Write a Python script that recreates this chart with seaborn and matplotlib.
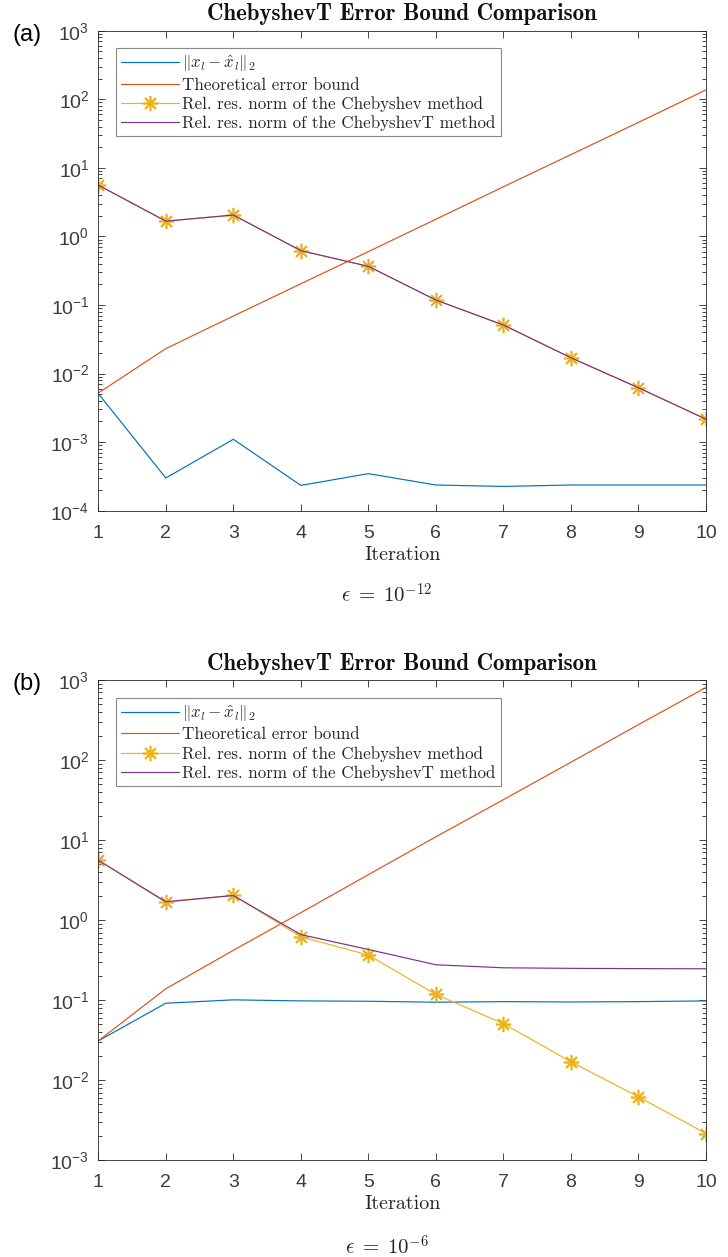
import numpy as np
import pandas as pd
import matplotlib
matplotlib.use("Agg")
import matplotlib.pyplot as plt
import seaborn as sns
from matplotlib.ticker import LogLocator, NullFormatter, LogFormatterSciNotation, FixedLocator
from matplotlib.font_manager import FontProperties

# ---------------- data ----------------
iters = [1, 2, 3, 4, 5, 6, 7, 8, 9, 10]

a_err = [5.1e-3, 3.0e-4, 1.1e-3, 2.34e-4, 3.47e-4, 2.37e-4, 2.26e-4, 2.37e-4, 2.37e-4, 2.37e-4]
a_bound = [5.2e-3, 2.31e-2, 6.9e-2, 0.204, 0.60, 1.78, 5.3, 15.6, 46.0, 137.0]
a_cheb = [5.6, 1.67, 2.05, 0.62, 0.366, 0.118, 0.051, 0.017, 0.0062, 0.00216]
a_chebT = [5.6, 1.67, 2.05, 0.62, 0.366, 0.118, 0.051, 0.017, 0.0062, 0.00216]

b_err = [0.031, 0.0917, 0.101, 0.098, 0.097, 0.0944, 0.096, 0.095, 0.096, 0.098]
b_bound = [0.031, 0.139, 0.42, 1.24, 3.7, 11.0, 32.0, 94.0, 277.0, 807.0]
b_cheb = [5.6, 1.67, 2.05, 0.62, 0.366, 0.118, 0.051, 0.017, 0.0062, 0.00216]
b_chebT = [5.6, 1.70, 2.03, 0.66, 0.43, 0.277, 0.254, 0.250, 0.248, 0.247]

labels = [r"$\|x_l - \hat{x}_l\|_2$",
          "Theoretical error bound",
          "Rel. res. norm of the Chebyshev method",
          "Rel. res. norm of the ChebyshevT method"]
title = "ChebyshevT Error Bound Comparison"
xlabel = "Iteration"
eps_labels = [r"$\epsilon\;=\;10^{-12}$", r"$\epsilon\;=\;10^{-6}$"]
panel_labels = ["(a)", "(b)"]

# ---------------- style ----------------
sns.set_style("ticks")
plt.rcParams["font.family"] = ["Liberation Sans", "DejaVu Sans"]
plt.rcParams["mathtext.fontset"] = "custom"
plt.rcParams["mathtext.rm"] = "Liberation Sans"
plt.rcParams["mathtext.it"] = "Liberation Sans:italic"
plt.rcParams["mathtext.bf"] = "Liberation Sans:bold"

dark = "#262626"
ticklab = "#3c3c3c"
colors = ["#0072BD", "#D95319", "#EDB120", "#7E2F8E"]

W, H = 728, 1257
fig = plt.figure(figsize=(W / 100, H / 100), dpi=100)
left = 98.3 / W
width = (706 - 98.3) / W
ax1 = fig.add_axes([left, 1 - 510.7 / H, width, 480 / H])
ax2 = fig.add_axes([left, 1 - 1160.3 / H, width, 480.3 / H])

panels = [
    (ax1, a_err, a_bound, a_cheb, a_chebT, (1e-4, 1e3)),
    (ax2, b_err, b_bound, b_cheb, b_chebT, (1e-3, 1e3)),
]

star = (8, 2, 0)
leg_prop = FontProperties(family="cmr10", size=12.2, math_fontfamily="cm")

for i, (ax, err, bound, cheb, chebT, ylim) in enumerate(panels):
    df = pd.DataFrame({"Iteration": iters, "err": err, "bound": bound,
                       "cheb": cheb, "chebT": chebT})
    sns.lineplot(data=df, x="Iteration", y="err", ax=ax, color=colors[0], lw=0.85,
                 label=labels[0])
    sns.lineplot(data=df, x="Iteration", y="bound", ax=ax, color=colors[1], lw=0.85,
                 label=labels[1])
    sns.lineplot(data=df, x="Iteration", y="cheb", ax=ax, color=colors[2], lw=0.85,
                 marker=star, markersize=11, markeredgewidth=1.2,
                 markeredgecolor=colors[2], label=labels[2])
    sns.lineplot(data=df, x="Iteration", y="chebT", ax=ax, color=colors[3], lw=0.85,
                 label=labels[3])
    ax.set_yscale("log")
    ax.set_xlim(1, 10)
    ax.set_ylim(*ylim)
    ax.xaxis.set_major_locator(FixedLocator(iters))
    ax.yaxis.set_major_locator(LogLocator(base=10, numticks=20))
    ax.yaxis.set_minor_locator(LogLocator(base=10, subs=np.arange(2, 10), numticks=100))
    ax.yaxis.set_minor_formatter(NullFormatter())
    ax.yaxis.set_major_formatter(LogFormatterSciNotation())
    ax.tick_params(which="both", direction="in", top=True, right=True,
                   colors=dark, labelcolor=ticklab, width=0.6)
    ax.tick_params(which="major", length=5, labelsize=14)
    ax.tick_params(which="minor", length=3)
    ax.tick_params(axis="x", pad=10)
    ax.tick_params(axis="y", pad=6.5)
    for s in ax.spines.values():
        s.set_color(dark)
        s.set_linewidth(0.6)
    ax.set_ylabel("")
    ax.set_xlabel(xlabel, fontfamily="cmr10", fontsize=14.5, color=dark, labelpad=3)
    ax.set_title(title, fontfamily="cmb10", fontsize=16.5, color="#111111", pad=7.5)
    leg = ax.legend(loc="upper left", bbox_to_anchor=(0.0291, 0.9633), prop=leg_prop,
                    frameon=True, fancybox=False, handlelength=3.4, handletextpad=0.2,
                    borderpad=0.3, labelspacing=0.2, borderaxespad=0.0)
    leg.get_frame().set_edgecolor("#6a6a6a")
    leg.get_frame().set_linewidth(0.8)
    for t in leg.get_texts():
        t.set_color(dark)

fig.text(13 / W, 1 - 35 / H, panel_labels[0], fontsize=17, va="center", ha="left", color="black")
fig.text(13 / W, 1 - 684 / H, panel_labels[1], fontsize=17, va="center", ha="left", color="black")
fig.text(387 / W, 1 - 595 / H, eps_labels[0], fontsize=15, ha="center", va="center",
         math_fontfamily="cm")
fig.text(387 / W, 1 - 1247 / H, eps_labels[1], fontsize=15, ha="center", va="center",
         math_fontfamily="cm")

fig.savefig("out.png", dpi=100)
